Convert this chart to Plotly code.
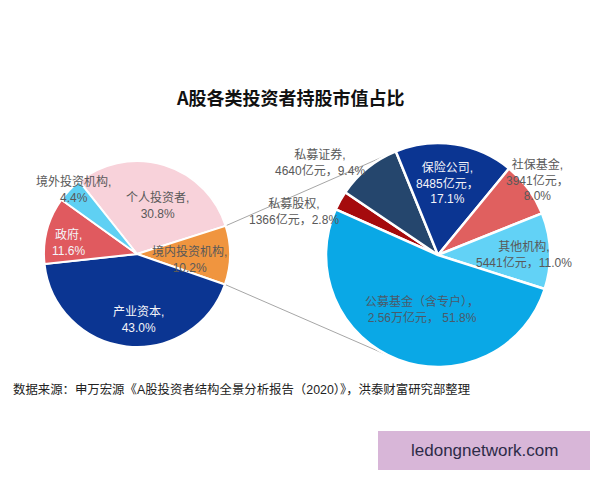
import math
import plotly.graph_objects as go

# ---------------- data ----------------
left_labels = ["个人投资者", "境内投资机构", "产业资本", "政府", "境外投资机构"]
left_values = [30.8, 10.2, 43.0, 11.6, 4.4]
left_colors = ["#f8d2da", "#f0953f", "#0b3592", "#e05a5f", "#5fd0f3"]

right_labels = ["私募股权", "私募证券", "保险公司", "社保基金", "其他机构", "公募基金（含专户）"]
right_amounts = ["1366亿元", "4640亿元", "8485亿元", "3941亿元", "5441亿元", "2.56万亿元"]
right_values = [2.8, 9.4, 17.1, 8.0, 11.0, 51.8]
right_colors = ["#a50b0d", "#25466d", "#0b3592", "#e0605f", "#62d2f6", "#0aa8e6"]

title_text = "A股各类投资者持股市值占比"
source_text = "数据来源：申万宏源《A股投资者结构全景分析报告（2020）》，洪泰财富研究部整理"
watermark_text = "ledongnetwork.com"

# ---------------- geometry (pixels) ----------------
W, H = 600, 480
L_C, L_R, L_ROT = (137, 254), 93, -38.5
R_C, R_R, R_ROT = (438, 255), 112, -66

def dom(c, r):
    cx, cy = c
    return dict(x=[(cx - r) / W, (cx + r) / W],
                y=[(H - cy - r) / H, (H - cy + r) / H])

FONT = "Liberation Sans, Noto Sans CJK SC, sans-serif"

fig = go.Figure()
fig.add_trace(go.Pie(labels=left_labels, values=left_values, sort=False,
                     direction="clockwise", rotation=L_ROT, textinfo="none",
                     hoverinfo="label+percent",
                     marker=dict(colors=left_colors, line=dict(color="white", width=2)),
                     domain=dom(L_C, L_R), showlegend=False))
fig.add_trace(go.Pie(labels=right_labels, values=right_values, sort=False,
                     direction="clockwise", rotation=R_ROT, textinfo="none",
                     hoverinfo="label+percent",
                     marker=dict(colors=right_colors, line=dict(color="white", width=2.5)),
                     domain=dom(R_C, R_R), showlegend=False))

# ---------- connector lines: from edges of 境内投资机构 slice, tangent to right pie ----------
tot = sum(left_values)
idx = left_labels.index("境内投资机构")
a0 = L_ROT + 360 * sum(left_values[:idx]) / tot
a1 = a0 + 360 * left_values[idx] / tot

def edge_pt(c, r, deg):
    t = math.radians(deg)
    return (c[0] + r * math.sin(t), c[1] - r * math.cos(t))

def tangent(p, c, r, sign):
    dx, dy = c[0] - p[0], c[1] - p[1]
    d = math.hypot(dx, dy)
    al = math.asin(r / d) * sign
    L = math.sqrt(d * d - r * r)
    ux, uy = dx / d, dy / d
    rx = ux * math.cos(al) - uy * math.sin(al)
    ry = ux * math.sin(al) + uy * math.cos(al)
    return (p[0] + L * rx, p[1] + L * ry)

p_top = edge_pt(L_C, L_R, a0)
p_bot = edge_pt(L_C, L_R, a1)
t_top = tangent(p_top, R_C, R_R, -1)
t_bot = tangent(p_bot, R_C, R_R, 1)

def px2paper(pt):
    return pt[0] / W, (H - pt[1]) / H

for p, t in [(p_top, t_top), (p_bot, t_bot)]:
    x0, y0 = px2paper(p)
    x1, y1 = px2paper(t)
    fig.add_shape(type="line", xref="paper", yref="paper", x0=x0, y0=y0, x1=x1, y1=y1,
                  line=dict(color="#a6a6a6", width=1), layer="below")

def note(x, y, text, size=12, color="#595959", family=FONT, xanchor="center"):
    px, py = px2paper((x, y))
    fig.add_annotation(x=px, y=py, xref="paper", yref="paper", showarrow=False,
                       xanchor=xanchor, yanchor="middle", text=text, align="center",
                       font=dict(family=family, size=size, color=color))

# ---------- slice labels ----------
GRAY = "#595959"
WHITE = "#f4f4f8"
left_label_pos = {  # label centre in pixels, text colour
    "个人投资者": (157, 205, GRAY),
    "境内投资机构": (189, 259, GRAY),
    "产业资本": (138, 320, WHITE),
    "政府": (68, 242, WHITE),
    "境外投资机构": (73, 189, GRAY),
}
for lab, val in zip(left_labels, left_values):
    x, y, col = left_label_pos[lab]
    note(x, y, f"{lab},<br>{val:.1f}%", color=col)

right_label_pos = {
    "私募股权": (294, 212, GRAY, False),
    "私募证券": (320, 162, GRAY, False),
    "保险公司": (447, 183, WHITE, True),
    "社保基金": (537, 180, GRAY, True),
    "其他机构": (524, 254, GRAY, False),
    "公募基金（含专户）": (422, 309, "#4a5a6a", False),
}
for lab, amt, val in zip(right_labels, right_amounts, right_values):
    x, y, col, three = right_label_pos[lab]
    if three:
        txt = f"{lab},<br>{amt}，<br>{val:.1f}%"
    elif lab.startswith("公募"):
        txt = f"{lab}，<br>{amt}， {val:.1f}%"
    else:
        txt = f"{lab},<br>{amt}，{val:.1f}%"
    note(x, y, txt, color=col)

# ---------- title, source, watermark ----------
note(290, 97, f"<b>{title_text}</b>", size=18, color="#111111",
     family="Noto Sans CJK SC, sans-serif")
note(11, 389, source_text, size=12.4, color="#222222", xanchor="left")
fig.add_shape(type="rect", xref="paper", yref="paper",
              x0=378 / W, x1=590 / W, y0=(H - 470) / H, y1=(H - 431) / H,
              fillcolor="#d8b6d8", line=dict(width=0), layer="below")
note(484, 450, watermark_text, size=17, color="#2d2b48",
     family="Liberation Sans, Arial, sans-serif")

fig.update_layout(width=W, height=H, margin=dict(l=0, r=0, t=0, b=0),
                  paper_bgcolor="white", plot_bgcolor="white")

fig.write_html("out.html", config={"displayModeBar": False},
               post_script="document.body.style.margin='0px';")
